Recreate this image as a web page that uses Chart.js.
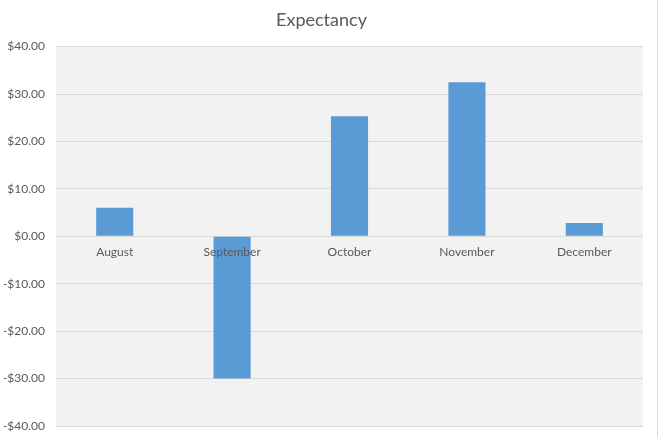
<!DOCTYPE html>
<html>
<head>
<meta charset="utf-8">
<script src="https://cdn.jsdelivr.net/npm/chart.js@4/dist/chart.umd.min.js"></script>
<style>
  html, body { margin: 0; padding: 0; background: #fff; }
  canvas { display: block; }
</style>
</head>
<body>
<canvas id="expectancy-bar" width="658" height="437"></canvas>
<script>
//
// Expectancy bar chart
//

// Data
var months = ['August', 'September', 'October', 'November', 'December'];
var expectancy = [6, -30, 25.3, 32.5, 2.8];
var yMin = -40;
var yMax = 40;
var yStep = 10;

// Plot area background + outer frame line
var plotBackground = {
	id: 'plotBackground',
	beforeDraw: function(chart) {
		var ctx = chart.ctx;
		var a = chart.chartArea;
		ctx.save();
		ctx.fillStyle = '#f2f2f2';
		ctx.fillRect(a.left, a.top, a.right - a.left, a.bottom - a.top);
		ctx.strokeStyle = '#d9d9d9';
		ctx.lineWidth = 1;
		ctx.beginPath();
		ctx.moveTo(chart.width - 0.5, 0);
		ctx.lineTo(chart.width - 0.5, chart.height);
		ctx.stroke();
		ctx.restore();
	}
};

function money(v) {
	var s = '$' + Math.abs(v).toFixed(2);
	return v < 0 ? '-' + s : s;
}

Chart.defaults.font.family = 'Lato, "Open Sans", sans-serif';
Chart.defaults.color = '#595959';

new Chart(document.getElementById('expectancy-bar'), {
	type: 'bar',
	data: {
		labels: months,
		datasets: [{
			label: 'Expectancy',
			data: expectancy,
			backgroundColor: '#5b9bd5',
			borderWidth: 0,
			categoryPercentage: 1,
			barPercentage: 0.316
		}]
	},
	options: {
		responsive: false,
		animation: false,
		layout: {
			padding: { left: 0, right: 15, top: 0, bottom: 11 }
		},
		plugins: {
			legend: { display: false },
			tooltip: { enabled: false },
			title: {
				display: true,
				text: 'Expectancy',
				color: '#595959',
				font: { size: 18, weight: 'normal' },
				padding: { top: 9, bottom: 16 }
			}
		},
		scales: {
			x: {
				position: { y: 0 },
				afterFit: function(scale) {
					scale.height = 0;
					scale.paddingTop = 0;
					scale.paddingBottom = 0;
				},
				grid: { display: false, drawTicks: false },
				border: { display: false },
				ticks: { z: 1, padding: 9, font: { size: 12 }, color: '#595959' }
			},
			y: {
				min: yMin,
				max: yMax,
				afterFit: function(scale) {
					scale.width = 56;
					scale.paddingBottom = 0;
				},
				grid: { color: '#d9d9d9', lineWidth: 1, drawTicks: false },
				border: { display: false },
				ticks: {
					stepSize: yStep,
					padding: 11,
					font: { size: 12 },
					color: '#595959',
					callback: function(v) { return money(v); }
				}
			}
		}
	},
	plugins: [plotBackground]
});
</script>
</body>
</html>
